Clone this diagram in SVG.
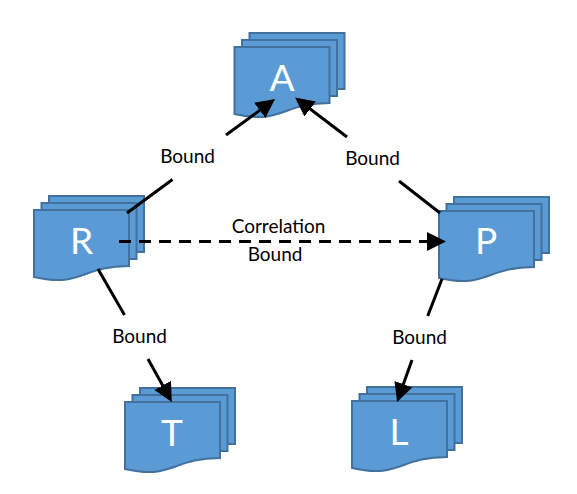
<svg xmlns="http://www.w3.org/2000/svg" width="577" height="494" viewBox="0 0 577 494">
  <style>
    .doc { fill: #5B9BD5; stroke: #41719C; stroke-width: 2; }
    .letter { font-family: "Lato", "Open Sans", sans-serif; font-size: 37px; fill: #FFFFFF; text-anchor: middle; }
    .lbl { font-family: "Lato", "Open Sans", sans-serif; font-size: 19px; fill: #000000; text-anchor: middle; }
    .wire { fill: none; stroke: #000000; stroke-width: 3; }
    .dash { stroke-dasharray: 12 8; }
  </style>
  <defs>
    <g id="stack">
      <rect class="doc" x="15" y="-14" width="95" height="56"/>
      <rect class="doc" x="7.5" y="-7" width="95" height="56"/>
      <path class="doc" d="M0,0 H95 V56 C47.5,56 47.5,78 0,67 Z"/>
    </g>
    <marker id="head" markerUnits="userSpaceOnUse" markerWidth="20" markerHeight="20" refX="9" refY="9.5" orient="auto">
      <path d="M0,0 L19,9.5 L0,19 Z" fill="#000000"/>
    </marker>
  </defs>
  <g id="node-A">
    <use href="#stack" x="234.5" y="47"/>
    <text class="letter" x="282" y="91">A</text>
  </g>
  <g id="node-R">
    <use href="#stack" x="34" y="210"/>
    <text class="letter" x="81.5" y="254">R</text>
  </g>
  <g id="node-P">
    <use href="#stack" x="439" y="211"/>
    <text class="letter" x="486" y="254">P</text>
  </g>
  <g id="node-T">
    <use href="#stack" x="125" y="402"/>
    <text class="letter" x="172" y="446">T</text>
  </g>
  <g id="node-L">
    <use href="#stack" x="352" y="401"/>
    <text class="letter" x="399" y="445">L</text>
  </g>
  <g id="connectors">
    <path class="wire" d="M127,213 L172.5,179.5"/>
    <path class="wire" d="M226,135 L267,105" marker-end="url(#head)"/>
    <path class="wire" d="M440,213 L399,181"/>
    <path class="wire" d="M347,137 L303,103.5" marker-end="url(#head)"/>
    <path class="wire dash" d="M119,241.5 L436,241.5" marker-end="url(#head)"/>
    <path class="wire" d="M98,269 L124.5,315"/>
    <path class="wire" d="M148,359 L167,393.3" marker-end="url(#head)"/>
    <path class="wire" d="M442,279 L427.7,316"/>
    <path class="wire" d="M412,360 L400.4,392.6" marker-end="url(#head)"/>
  </g>
  <g id="labels">
    <text class="lbl" x="187.5" y="163">Bound</text>
    <text class="lbl" x="372.5" y="165">Bound</text>
    <text class="lbl" x="278.5" y="233">Correlation</text>
    <text class="lbl" x="275" y="261">Bound</text>
    <text class="lbl" x="139.5" y="343">Bound</text>
    <text class="lbl" x="419.5" y="344">Bound</text>
  </g>
</svg>
